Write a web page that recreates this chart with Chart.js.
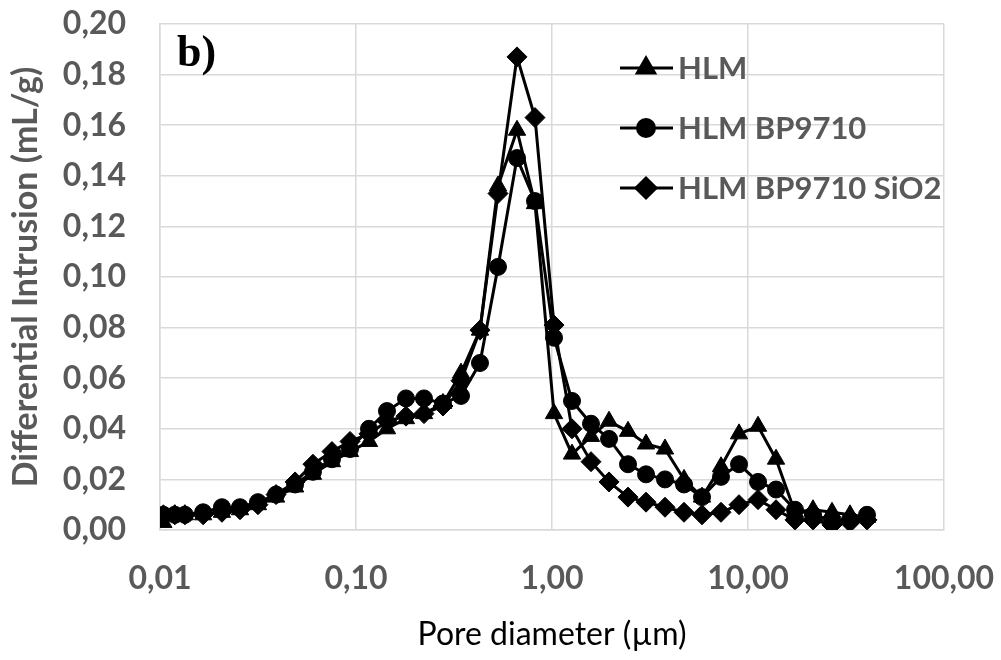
<!DOCTYPE html>
<html>
<head>
<meta charset="utf-8">
<script src="https://cdn.jsdelivr.net/npm/chart.js@4.4.1/dist/chart.umd.min.js"></script>
<style>
  html, body { margin: 0; padding: 0; background: #fff; }
  #wrap { width: 1001px; height: 660px; position: relative; }
</style>
</head>
<body>
<div id="wrap"><canvas id="poreChart" width="1001" height="660"></canvas></div>
<script>
// Pore diameter (µm), shared by all three samples
const poreDiameter = [0.0104, 0.0119, 0.0134, 0.0166, 0.0207, 0.0256, 0.0316, 0.0391, 0.0489, 0.0603,
    0.0754, 0.0932, 0.1165, 0.1439, 0.1799, 0.2223, 0.2779, 0.3433, 0.4291, 0.5303,
    0.6629, 0.8190, 1.024, 1.265, 1.581, 1.954, 2.442, 3.018, 3.772, 4.716,
    5.826, 7.283, 8.999, 11.25, 13.90, 17.37, 21.46, 26.83, 33.14, 40.47];

// Differential intrusion (mL/g)
const hlm = [0.003, 0.006, 0.006, 0.006, 0.007, 0.008, 0.010, 0.013, 0.017, 0.022,
    0.027, 0.031, 0.035, 0.040, 0.044, 0.046, 0.050, 0.062, 0.079, 0.136,
    0.158, 0.129, 0.046, 0.030, 0.037, 0.043, 0.039, 0.034, 0.032, 0.020,
    0.013, 0.025, 0.038, 0.041, 0.028, 0.007, 0.008, 0.007, 0.006, 0.005];

const hlmBp = [0.006, 0.006, 0.006, 0.007, 0.009, 0.009, 0.011, 0.014, 0.018, 0.023,
    0.028, 0.032, 0.040, 0.047, 0.052, 0.052, 0.050, 0.053, 0.066, 0.104,
    0.147, 0.130, 0.076, 0.051, 0.042, 0.036, 0.026, 0.022, 0.020, 0.018,
    0.013, 0.021, 0.026, 0.019, 0.016, 0.008, 0.006, 0.004, 0.004, 0.006];

const hlmBpSi = [0.006, 0.006, 0.006, 0.006, 0.007, 0.008, 0.010, 0.014, 0.019, 0.026,
    0.031, 0.035, 0.038, 0.043, 0.045, 0.046, 0.049, 0.059, 0.079, 0.133,
    0.187, 0.163, 0.081, 0.040, 0.027, 0.019, 0.013, 0.011, 0.009, 0.007,
    0.006, 0.007, 0.010, 0.012, 0.008, 0.004, 0.004, 0.002, 0.003, 0.004];

const seriesNames = ['HLM', 'HLM BP9710', 'HLM BP9710 SiO2'];
const xTickValues = [0.01, 0.1, 1, 10, 100];

const FONT = 'Lato, "Open Sans", sans-serif';
const GREY = '#595959';

const toPoints = ys => ys.map((y, i) => ({ x: poreDiameter[i], y: y }));
const comma = (v, d) => v.toFixed(d).replace('.', ',');

function makeSet(label, ys, style, radius) {
    return {
        label: label,
        data: toPoints(ys),
        borderColor: '#000',
        backgroundColor: '#000',
        borderWidth: 3,
        pointStyle: style,
        pointRadius: radius,
        pointBorderWidth: 1,
        tension: 0
    };
}

// Legend drawn as line + marker, like the original
const legendPlugin = {
    id: 'lineLegend',
    afterDraw(chart) {
        const ctx = chart.ctx;
        const styles = [['triangle', 10], ['circle', 8.5], ['rectRot', 10]];
        ctx.save();
        seriesNames.forEach((name, i) => {
            const y = 68 + i * 60;
            ctx.strokeStyle = '#000';
            ctx.lineWidth = 3;
            ctx.beginPath();
            ctx.moveTo(620, y);
            ctx.lineTo(673, y);
            ctx.stroke();
            ctx.fillStyle = '#000';
            Chart.helpers.drawPoint(ctx, { pointStyle: styles[i][0], radius: styles[i][1], borderWidth: 1 }, 646, y);
            ctx.fill();
            ctx.fillStyle = GREY;
            ctx.font = 'bold 31px ' + FONT;
            ctx.textBaseline = 'middle';
            ctx.fillText(name, 678, y + 1);
        });
        // panel tag
        ctx.fillStyle = '#000';
        ctx.font = 'bold 44px "Liberation Serif", serif';
        ctx.textBaseline = 'alphabetic';
        ctx.fillText('b)', 177, 66);
        ctx.restore();
    }
};

new Chart(document.getElementById('poreChart'), {
    type: 'line',
    data: {
        datasets: [
            makeSet(seriesNames[0], hlm, 'triangle', 10),
            makeSet(seriesNames[1], hlmBp, 'circle', 8.5),
            makeSet(seriesNames[2], hlmBpSi, 'rectRot', 10)
        ]
    },
    options: {
        responsive: false,
        animation: false,
        layout: { padding: { top: 24, right: 57, left: 0, bottom: 0 } },
        plugins: {
            legend: { display: false },
            tooltip: { enabled: false }
        },
        scales: {
            x: {
                type: 'logarithmic',
                min: 0.01,
                max: 100,
                afterBuildTicks: scale => { scale.ticks = xTickValues.map(v => ({ value: v })); },
                afterFit: scale => {
                    scale.height = 130;
                    scale.paddingLeft = 0;
                    scale.paddingRight = 0;
                },
                ticks: {
                    autoSkip: false,
                    maxRotation: 0,
                    padding: 29,
                    color: GREY,
                    font: { family: FONT, size: 32, weight: 'bold' },
                    callback: v => comma(v, 2)
                },
                grid: { color: '#d9d9d9', lineWidth: 1.5, drawTicks: false },
                border: { color: '#d9d9d9', width: 1.5 },
                title: {
                    display: true,
                    text: 'Pore diameter (µm)',
                    color: '#000',
                    font: { family: FONT, size: 32 },
                    padding: { top: 0, bottom: 6 }
                }
            },
            y: {
                min: 0,
                max: 0.2,
                afterFit: scale => {
                    scale.width = 160;
                    scale.paddingTop = 0;
                    scale.paddingBottom = 0;
                },
                ticks: {
                    stepSize: 0.02,
                    padding: 34,
                    color: GREY,
                    font: { family: FONT, size: 32, weight: 'bold' },
                    callback: v => comma(v, 2)
                },
                grid: { color: '#d9d9d9', lineWidth: 1.5, drawTicks: false },
                border: { color: '#d9d9d9', width: 1.5 },
                title: {
                    display: true,
                    text: 'Differential Intrusion (mL/g)',
                    color: GREY,
                    font: { family: FONT, size: 34, weight: 'bold' },
                    padding: { top: 6, bottom: 0 }
                }
            }
        }
    },
    plugins: [legendPlugin]
});
</script>
</body>
</html>
